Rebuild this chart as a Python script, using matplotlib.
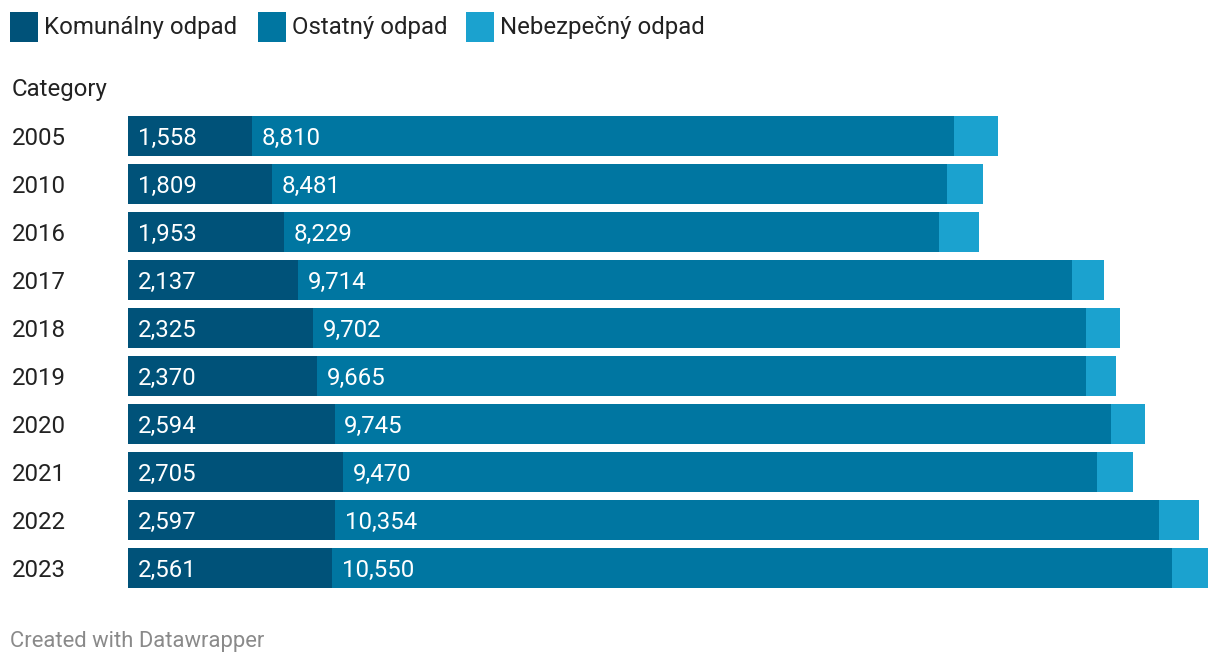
import matplotlib.pyplot as plt
from matplotlib.patches import Rectangle

plt.rcParams['font.family'] = ['Roboto', 'DejaVu Sans']

years = ["2005", "2010", "2016", "2017", "2018", "2019", "2020", "2021", "2022", "2023"]
komunalny = [1558, 1809, 1953, 2137, 2325, 2370, 2594, 2705, 2597, 2561]
ostatny = [8810, 8481, 8229, 9714, 9702, 9665, 9745, 9470, 10354, 10550]
nebezpecny = [553, 452, 503, 402, 427, 377, 427, 452, 503, 452]

series_names = ["Komunálny odpad", "Ostatný odpad", "Nebezpečný odpad"]
colors = ["#005279", "#0076a1", "#1ba2cf"]

W, H = 1220, 666
fig = plt.figure(figsize=(W / 100, H / 100), dpi=100)

# axes placed in pixel terms: bars from x=128 to 1208, y=112 to 592
ax = fig.add_axes([128 / W, 1 - 592 / H, 1080 / W, 480 / H])

ypos = list(range(len(years)))
totals = [a + b + c for a, b, c in zip(komunalny, ostatny, nebezpecny)]
left2 = komunalny
left3 = [a + b for a, b in zip(komunalny, ostatny)]

ax.barh(ypos, komunalny, height=0.833, color=colors[0], linewidth=0)
ax.barh(ypos, ostatny, left=left2, height=0.833, color=colors[1], linewidth=0)
ax.barh(ypos, nebezpecny, left=left3, height=0.833, color=colors[2], linewidth=0)

ax.set_xlim(0, max(totals))
ax.set_ylim(len(years) - 0.5, -0.5)
ax.axis("off")

fs = 17.3
dy = -1.5  # nudge text slightly down (points)

# value labels, white, with a small left padding (in points)
for i in ypos:
    ax.annotate(f"{komunalny[i]:,}", (0, i), xytext=(7, dy), textcoords="offset points",
                ha="left", va="center", color="white", fontsize=fs)
    ax.annotate(f"{ostatny[i]:,}", (left2[i], i), xytext=(7, dy), textcoords="offset points",
                ha="left", va="center", color="white", fontsize=fs)
    # year labels to the left of the bars
    ax.annotate(years[i], (0, i), xytext=(-(128 - 12) * 0.72, dy), textcoords="offset points",
                ha="left", va="center", color="#222222", fontsize=fs)

# header "Category"
fig.text(12 / W, 1 - 89.5 / H, "Category", ha="left", va="center", fontsize=fs, color="#222222")

# legend
legend_x = [10, 258, 466]
for x0, name, c in zip(legend_x, series_names, colors):
    fig.patches.append(Rectangle((x0 / W, 1 - 42 / H), 28 / W, 30 / H,
                                 transform=fig.transFigure, color=c, linewidth=0))
    fig.text((x0 + 34) / W, 1 - 27.5 / H, name, ha="left", va="center", fontsize=fs, color="#222222")

# footer
fig.text(10 / W, 1 - 641 / H, "Created with Datawrapper", ha="left", va="center",
         fontsize=15.8, color="#8a8a8a")

fig.savefig("out.png", dpi=100, facecolor="white")
